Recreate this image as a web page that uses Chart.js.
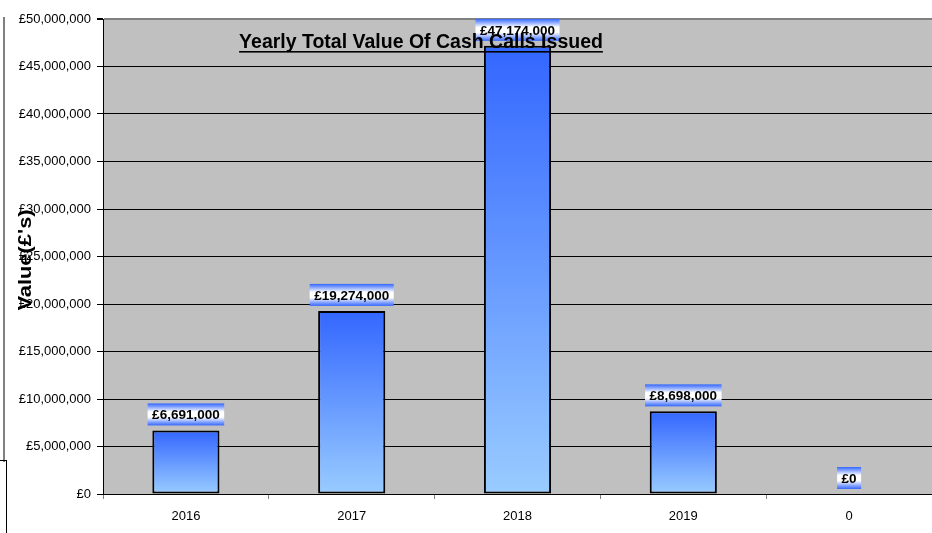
<!DOCTYPE html>
<html>
<head>
<meta charset="utf-8">
<script src="https://cdn.jsdelivr.net/npm/chart.js@4/dist/chart.umd.min.js"></script>
<style>
  body { margin: 0; background: #fff; }
  #wrap { position: relative; width: 932px; height: 533px; }
  .edge { position: absolute; }
</style>
</head>
<body>
<div id="wrap">
  <canvas id="cashCalls"></canvas>
  <div class="edge" style="left:3px;top:17px;width:2px;height:445px;background:#808080"></div>
  <div class="edge" style="left:0;top:460px;width:7px;height:1px;background:#000"></div>
  <div class="edge" style="left:6px;top:460px;width:1px;height:73px;background:#000"></div>
</div>
<script>
const years = ["2016", "2017", "2018", "2019", "0"];
const totals = [6691000, 19274000, 47174000, 8698000, 0];
const yMax = 50000000;
const yStep = 5000000;

const money = (v) => "£" + v.toLocaleString("en-GB");

Chart.defaults.font.family = "'Liberation Sans', Arial, sans-serif";
Chart.defaults.color = "#000";

const plotBackground = {
  id: "plotBackground",
  beforeDraw(chart) {
    const a = chart.chartArea;
    chart.ctx.save();
    chart.ctx.fillStyle = "#c0c0c0";
    chart.ctx.fillRect(a.left, a.top, a.right - a.left, a.bottom - a.top);
    chart.ctx.restore();
  },
};

const barLabels = {
  id: "barLabels",
  afterDatasetsDraw(chart) {
    const ctx = chart.ctx;
    const meta = chart.getDatasetMeta(0);
    ctx.save();
    ctx.font = "bold 13.5px 'Liberation Sans', Arial";
    ctx.textAlign = "center";
    ctx.textBaseline = "middle";
    meta.data.forEach((bar, i) => {
      const text = money(totals[i]);
      const w = ctx.measureText(text).width + 9;
      const h = 22;
      const bottom = bar.y - 5;
      const top = bottom - h;
      const g = ctx.createLinearGradient(0, top, 0, bottom);
      g.addColorStop(0, "#3366ff");
      g.addColorStop(0.38, "#ffffff");
      g.addColorStop(0.62, "#ffffff");
      g.addColorStop(1, "#3366ff");
      ctx.fillStyle = g;
      ctx.fillRect(bar.x - w / 2, top, w, h);
      ctx.fillStyle = "#000";
      ctx.fillText(text, bar.x, top + h / 2 + 1);
    });
    ctx.restore();
  },
};

const titles = {
  id: "titles",
  afterDraw(chart) {
    const ctx = chart.ctx;
    const a = chart.chartArea;
    ctx.save();
    // chart title, inside the plot
    const title = "Yearly Total Value Of Cash Calls Issued";
    ctx.font = "bold 19.5px 'Liberation Sans', Arial";
    ctx.fillStyle = "#000";
    ctx.textAlign = "left";
    ctx.textBaseline = "alphabetic";
    const tw = ctx.measureText(title).width;
    const x0 = a.left + 318 - tw / 2;
    ctx.fillText(title, x0, 48);
    ctx.fillRect(x0, 51, tw, 1.6);
    // y axis title, overlapping tick labels
    ctx.translate(26, 260);
    ctx.rotate(-Math.PI / 2);
    ctx.scale(1.15, 1);
    ctx.font = "bold 19px 'Liberation Sans', Arial";
    ctx.textAlign = "center";
    ctx.textBaseline = "middle";
    ctx.fillText("Value(£'s)", 0, 0);
    ctx.restore();
  },
};

function barFill(c) {
  const chart = c.chart;
  if (!chart.chartArea || !chart.scales.y) return "#6699ff";
  const top = chart.scales.y.getPixelForValue(c.raw);
  const bottom = chart.scales.y.getPixelForValue(0);
  if (bottom - top < 1) return "#3366ff";
  const g = chart.ctx.createLinearGradient(0, top, 0, bottom);
  g.addColorStop(0, "#3366ff");
  g.addColorStop(1, "#99ccff");
  return g;
}

new Chart(document.getElementById("cashCalls"), {
  type: "bar",
  data: {
    labels: years,
    datasets: [
      {
        data: totals,
        backgroundColor: barFill,
        borderColor: "#000",
        borderWidth: (c) => (c.raw === 0 ? 0 : 2),
        borderSkipped: false,
        categoryPercentage: 1,
        barPercentage: 0.405,
      },
    ],
  },
  options: {
    responsive: true,
    maintainAspectRatio: false,
    animation: false,
    layout: { padding: { top: 19, left: 0, right: 0, bottom: 0 } },
    plugins: {
      legend: { display: false },
      tooltip: { enabled: false },
    },
    scales: {
      x: {
        afterFit: (s) => { s.height = 39; },
        grid: {
          drawOnChartArea: false,
          tickLength: 5,
          tickColor: "#808080",
        },
        border: { color: "#000", width: 1 },
        ticks: { font: { size: 13 }, color: "#000", padding: 10 },
      },
      y: {
        min: 0,
        max: yMax,
        afterFit: (s) => { s.width = 103; },
        grid: {
          color: (c) => (c.tick && c.tick.value === yMax ? "#808080" : "#000"),
          lineWidth: (c) => (c.tick && c.tick.value === yMax ? 2 : 1),
          tickLength: 6,
          tickColor: "#000",
        },
        border: { color: "#000", width: 1 },
        ticks: {
          stepSize: yStep,
          padding: 6,
          font: { size: 13 },
          color: "#000",
          callback: (v) => money(v),
        },
      },
    },
  },
  plugins: [plotBackground, barLabels, titles],
});
</script>
</body>
</html>
